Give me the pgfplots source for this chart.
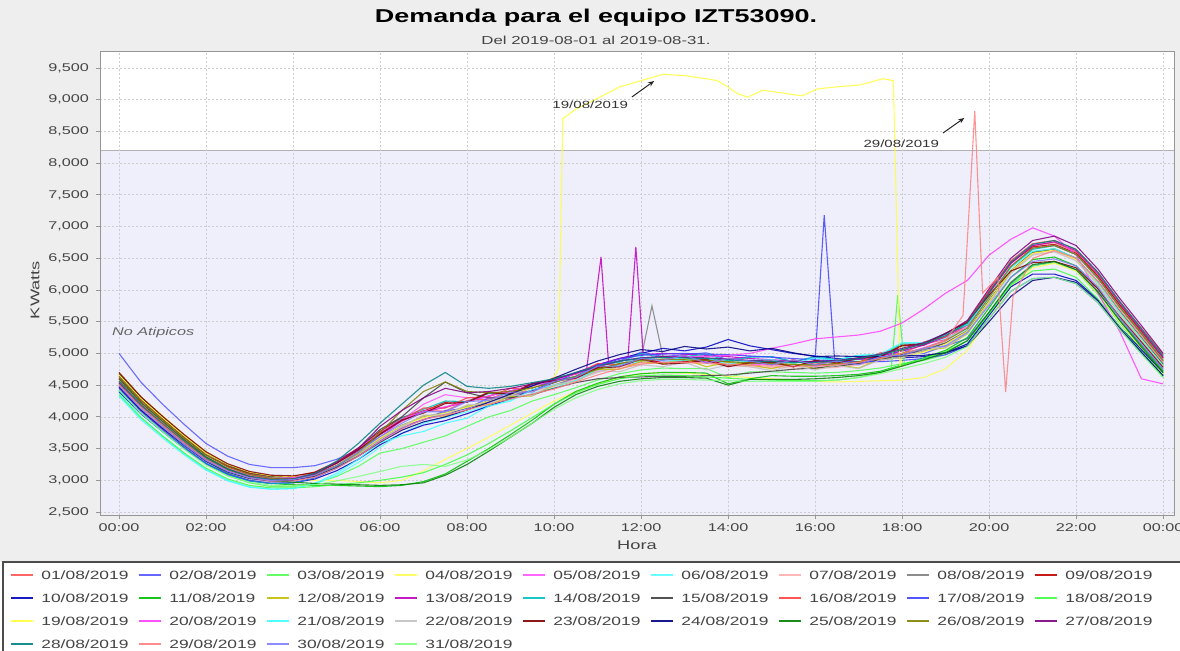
\documentclass[border=0pt]{standalone}
\usepackage{fontspec}
\setmainfont{Liberation Sans}[FakeStretch=1.45]
\usepackage{pgfplots}
\pgfplotsset{compat=1.18}
\usetikzlibrary{arrows.meta}
\definecolor{c1}{HTML}{FF5555}\definecolor{c2}{HTML}{5555FF}\definecolor{c3}{HTML}{55FF55}
\definecolor{c4}{HTML}{FFFF55}\definecolor{c5}{HTML}{FF55FF}\definecolor{c6}{HTML}{55FFFF}
\definecolor{c7}{RGB}{255,175,175}\definecolor{c8}{RGB}{128,128,128}\definecolor{c9}{HTML}{C00000}
\definecolor{c10}{HTML}{0000C0}\definecolor{c11}{HTML}{00C000}\definecolor{c12}{HTML}{C0C000}
\definecolor{c13}{HTML}{C000C0}\definecolor{c14}{HTML}{00C0C0}\definecolor{c15}{RGB}{64,64,64}
\definecolor{c16}{HTML}{FF4040}\definecolor{c17}{HTML}{4040FF}\definecolor{c18}{HTML}{40FF40}
\definecolor{c19}{HTML}{FFFF40}\definecolor{c20}{HTML}{FF40FF}\definecolor{c21}{HTML}{40FFFF}
\definecolor{c22}{RGB}{192,192,192}\definecolor{c23}{HTML}{800000}\definecolor{c24}{HTML}{000080}
\definecolor{c25}{HTML}{008000}\definecolor{c26}{HTML}{808000}\definecolor{c27}{HTML}{800080}
\definecolor{c28}{HTML}{008080}\definecolor{c29}{HTML}{FF8080}\definecolor{c30}{HTML}{8080FF}
\definecolor{c31}{HTML}{80FF80}
\definecolor{chartbg}{RGB}{238,238,238}
\definecolor{bandcol}{RGB}{239,239,251}
\definecolor{ticktext}{RGB}{68,68,68}
\definecolor{axisgray}{RGB}{150,150,150}
\definecolor{gridgray}{RGB}{205,205,205}
\newcommand{\legtxt}[1]{\makebox[52bp][l]{\hspace{3.5bp}\textcolor{ticktext}{#1}}}
\newcommand{\dser}[3]{%
  \addplot[color=#1] table[row sep=\\, header=false, x expr=\coordindex*0.5, y index=0]{#2};
  \addlegendentry{\legtxt{#3}}}
\begin{document}
\begin{tikzpicture}
\fill[chartbg] (0,44.5bp) rectangle (590bp,325.5bp);
\fill[white] (0,0) rectangle (590bp,44.5bp);
\draw[black!70, line width=0.6bp] (1.5bp,0bp) -- (1.5bp,44.5bp) -- (590bp,44.5bp);
\node[font=\bfseries\fontsize{9.3bp}{10bp}\selectfont] at (298bp,316.5bp) {Demanda para el equipo IZT53090.};
\node[font=\fontsize{5.8bp}{6.5bp}\selectfont, text=ticktext] at (298bp,305.5bp) {Del 2019-08-01 al 2019-08-31.};
\begin{axis}[
  at={(50bp,68bp)}, anchor=south west, scale only axis,
  width=537bp, height=231.5bp,
  xmin=-0.437, xmax=24.25, ymin=2453, ymax=9752,
  xtick={0,2,...,24},
  xticklabels={00:00,02:00,04:00,06:00,08:00,10:00,12:00,14:00,16:00,18:00,20:00,22:00,00:00},
  ytick={2500,3000,...,9500},
  scaled y ticks=false,
  yticklabel={\pgfmathprintnumber[fixed,1000 sep={,},assume math mode=true]{\tick}},
  ticklabel style={font=\fontsize{5.6bp}{6bp}\selectfont, text=ticktext},
  xticklabel style={yshift=1bp},
  tick style={axisgray, line width=0.4bp}, tick align=outside, major tick length=2bp,
  xtick pos=left, ytick pos=left,
  axis line style={axisgray, line width=0.5bp},
  grid=major, grid style={gridgray, line width=0.35bp, dash pattern=on 1bp off 1bp},
  axis background/.style={fill=white, path picture={
    \fill[bandcol] (path picture bounding box.south west) rectangle ([yshift=182.28bp]path picture bounding box.south east);
    \draw[black!30, line width=0.4bp] ([yshift=182.28bp]path picture bounding box.south west) -- ([yshift=182.28bp]path picture bounding box.south east);}},
  xlabel={Hora}, ylabel={KWatts},
  label style={font=\fontsize{6.3bp}{7bp}\selectfont, text=ticktext},
  xlabel style={at={(axis description cs:0.5,-0.0648)}, anchor=center},
  ylabel style={at={(axis description cs:-0.0605,0.486)}, anchor=center},
  legend columns=9, legend cell align=left,
  legend image code/.code={\draw[#1, line width=1bp, opacity=0.9] (0bp,0.25bp) -- (11bp,0.25bp);},
  legend style={at={(axis description cs:-0.0838,-0.1166)}, anchor=north west,
    draw=none, fill=none, inner sep=0pt,
    font=\fontsize{6bp}{7bp}\selectfont,
    row sep=5.5bp, nodes={inner sep=0pt, text height=5bp, text depth=1bp}},
  every axis plot/.append style={line width=0.55bp, opacity=0.85},
]
\dser{c1}{4600\\4230\\3930\\3640\\3360\\3170\\3060\\3000\\3020\\3090\\3260\\3480\\3720\\3930\\4100\\4090\\4260\\4280\\4410\\4400\\4560\\4610\\4790\\4790\\4910\\4890\\4950\\4860\\4920\\4880\\4820\\4900\\4820\\4890\\4840\\4970\\5000\\5150\\5220\\5450\\5950\\6420\\6700\\6750\\6600\\6230\\5760\\5330\\4900\\}{01/08/2019}
\dser{c2}{5000\\4550\\4200\\3880\\3580\\3380\\3250\\3200\\3200\\3230\\3330\\3480\\3680\\3860\\3950\\4100\\4130\\4300\\4310\\4490\\4560\\4640\\4830\\4880\\5020\\4950\\4980\\5010\\4900\\4950\\4950\\4870\\4940\\4880\\4930\\4910\\5050\\5000\\5120\\5230\\5650\\6100\\6380\\6450\\6320\\5980\\5520\\5130\\4750\\}{02/08/2019}
\dser{c3}{4480\\4120\\3830\\3530\\3260\\3070\\2960\\2900\\2900\\2950\\3060\\3220\\3430\\3500\\3600\\3700\\3850\\4000\\4100\\4250\\4350\\4460\\4580\\4680\\4740\\4770\\4760\\4760\\4620\\4710\\4710\\4700\\4690\\4700\\4730\\4770\\4840\\4890\\4980\\5150\\5620\\6080\\6380\\6430\\6300\\5930\\5480\\5060\\4660\\}{03/08/2019}
\dser{c4}{4700\\4320\\4020\\3720\\3450\\3250\\3120\\3050\\3010\\3000\\3000\\2980\\2960\\3000\\3150\\3330\\3500\\3680\\3870\\4060\\4250\\4400\\4520\\4620\\4680\\4700\\4690\\4670\\4640\\4620\\4600\\4580\\4560\\4550\\4560\\4570\\4580\\4620\\4760\\5050\\5550\\6050\\6350\\6420\\6300\\5950\\5500\\5080\\4680\\}{04/08/2019}
\dser{c5}{4550\\4190\\3890\\3600\\3330\\3140\\3020\\2970\\2980\\3060\\3210\\3420\\3670\\3950\\4200\\4350\\4300\\4300\\4330\\4420\\4500\\4600\\4710\\4800\\4860\\4880\\4880\\4870\\4850\\4830\\4820\\4810\\4800\\4820\\4850\\4900\\4980\\5090\\5210\\5420\\5900\\6380\\6660\\6700\\6560\\6180\\5730\\5300\\4880\\}{05/08/2019}
\dser{c6}{4380\\4000\\3700\\3420\\3170\\3000\\2900\\2860\\2870\\2940\\3080\\3280\\3520\\3740\\3900\\3990\\4080\\4180\\4270\\4370\\4460\\4580\\4700\\4810\\4880\\4910\\4920\\4910\\4890\\4880\\4870\\4860\\4850\\4870\\4900\\4960\\5060\\5150\\5240\\5380\\5820\\6300\\6600\\6650\\6500\\6130\\5660\\5240\\4830\\}{06/08/2019}
\dser{c7}{4500\\4150\\3860\\3580\\3320\\3140\\3030\\2990\\3000\\3070\\3210\\3400\\3630\\3840\\3990\\4060\\4140\\4240\\4320\\4400\\4480\\4590\\4700\\4790\\4840\\4860\\4850\\4840\\4810\\4790\\4780\\4770\\4760\\4780\\4820\\4880\\4960\\5040\\5150\\5330\\5800\\6280\\6570\\6620\\6480\\6100\\5640\\5220\\4800\\}{07/08/2019}
\dser{c8}{4650\\4280\\3970\\3670\\3400\\3220\\3100\\3040\\3030\\3080\\3220\\3420\\3660\\3870\\4000\\4070\\4160\\4250\\4330\\4420\\4500\\4620\\4740\\4840\\4920\\4960\\4930\\4900\\4870\\4850\\4840\\4820\\4810\\4830\\4860\\4910\\4990\\5060\\5170\\5360\\5830\\6300\\6600\\6650\\6500\\6120\\5660\\5240\\4820\\}{08/08/2019}
\addplot[color=c8, forget plot] coordinates {(12.0,4920)(12.25,5750)(12.5,4960)};
\dser{c9}{4620\\4260\\3960\\3670\\3400\\3220\\3110\\3060\\3060\\3130\\3290\\3510\\3770\\3990\\4090\\4230\\4240\\4390\\4370\\4530\\4580\\4620\\4780\\4810\\4930\\4850\\4870\\4910\\4810\\4860\\4870\\4790\\4880\\4840\\4920\\4940\\5120\\5130\\5310\\5500\\5980\\6430\\6680\\6720\\6580\\6220\\5770\\5350\\4930\\}{09/08/2019}
\dser{c10}{4400\\4050\\3770\\3500\\3260\\3090\\2990\\2950\\2960\\3020\\3150\\3330\\3560\\3740\\3870\\3940\\4050\\4170\\4290\\4420\\4540\\4690\\4820\\4920\\5000\\5080\\5040\\5100\\5220\\5120\\5060\\5000\\4960\\4920\\4910\\4910\\4930\\4950\\5010\\5150\\5600\\6050\\6250\\6250\\6150\\5850\\5420\\5060\\4700\\}{10/08/2019}
\dser{c11}{4520\\4150\\3860\\3570\\3300\\3110\\3000\\2950\\2930\\2920\\2920\\2910\\2900\\2920\\2980\\3100\\3300\\3500\\3720\\3950\\4200\\4400\\4530\\4630\\4680\\4700\\4700\\4690\\4520\\4600\\4650\\4640\\4640\\4650\\4670\\4720\\4820\\4930\\5050\\5250\\5720\\6200\\6480\\6520\\6380\\6020\\5560\\5130\\4720\\}{11/08/2019}
\dser{c12}{4570\\4210\\3900\\3610\\3350\\3170\\3060\\3010\\3010\\3070\\3220\\3420\\3650\\3850\\4020\\4010\\4170\\4190\\4320\\4330\\4500\\4560\\4750\\4750\\4870\\4840\\4910\\4790\\4860\\4820\\4760\\4840\\4760\\4820\\4770\\4910\\4930\\5040\\5090\\5310\\5800\\6290\\6590\\6640\\6500\\6120\\5660\\5240\\4820\\}{12/08/2019}
\dser{c13}{4480\\4120\\3830\\3560\\3310\\3140\\3040\\2990\\3000\\3080\\3240\\3460\\3720\\3940\\4080\\4150\\4240\\4330\\4410\\4490\\4580\\4700\\4820\\4920\\4980\\5000\\4990\\4970\\4950\\4920\\4900\\4880\\4870\\4880\\4910\\4960\\5040\\5130\\5260\\5460\\5950\\6420\\6700\\6760\\6620\\6260\\5800\\5370\\4940\\}{13/08/2019}
\addplot[color=c13, forget plot] coordinates {(10.75,4760)(11.08,6520)(11.25,4870)};
\addplot[color=c13, forget plot] coordinates {(11.7,4944)(11.88,6680)(12.05,4982)};
\dser{c14}{4420\\4060\\3770\\3500\\3260\\3090\\2990\\2950\\2960\\3040\\3210\\3450\\3730\\3980\\4120\\4250\\4240\\4370\\4350\\4510\\4570\\4630\\4810\\4860\\5000\\4930\\4950\\4990\\4880\\4940\\4950\\4870\\4950\\4900\\4970\\4970\\5150\\5150\\5300\\5450\\5900\\6360\\6640\\6700\\6560\\6190\\5730\\5310\\4890\\}{14/08/2019}
\dser{c15}{4680\\4310\\4000\\3700\\3430\\3240\\3120\\3060\\3050\\3100\\3230\\3500\\3800\\4000\\4300\\4550\\4380\\4300\\4300\\4350\\4450\\4540\\4600\\4620\\4630\\4640\\4640\\4650\\4660\\4690\\4720\\4750\\4770\\4800\\4840\\4900\\4980\\5050\\5160\\5350\\5830\\6300\\6590\\6640\\6500\\6130\\5670\\5250\\4830\\}{15/08/2019}
\dser{c16}{4560\\4200\\3900\\3620\\3360\\3180\\3070\\3020\\3030\\3100\\3260\\3480\\3740\\3960\\4140\\4140\\4300\\4320\\4450\\4450\\4620\\4670\\4840\\4820\\4930\\4900\\4970\\4850\\4920\\4880\\4820\\4900\\4830\\4900\\4860\\5010\\5050\\5180\\5260\\5500\\5990\\6460\\6730\\6780\\6640\\6280\\5820\\5400\\4980\\}{16/08/2019}
\dser{c17}{4450\\4090\\3800\\3520\\3270\\3100\\3000\\2960\\2970\\3040\\3190\\3390\\3620\\3820\\3960\\4040\\4140\\4250\\4350\\4460\\4560\\4690\\4810\\4910\\4970\\4990\\5000\\4990\\4980\\4960\\4940\\4920\\4900\\4880\\4870\\4870\\4890\\4920\\4980\\5120\\5550\\5980\\6180\\6200\\6100\\5800\\5380\\5000\\4640\\}{17/08/2019}
\addplot[color=c17, forget plot] coordinates {(16.0,4900)(16.21,7180)(16.45,4882)};
\dser{c18}{4350\\3990\\3700\\3430\\3190\\3020\\2920\\2880\\2880\\2900\\2930\\2960\\3000\\3050\\3120\\3250\\3400\\3580\\3780\\3990\\4200\\4380\\4510\\4600\\4650\\4660\\4650\\4630\\4610\\4590\\4580\\4570\\4570\\4580\\4620\\4700\\4820\\4920\\5030\\5200\\5630\\6080\\6300\\6330\\6200\\5860\\5420\\5020\\4630\\}{18/08/2019}
\addplot[color=c18, forget plot] coordinates {(17.75,4760)(17.9,5920)(18.05,4832)};
\addplot[color=c19] coordinates {(0,4660)(0.5,4290)(1,3990)(1.5,3700)(2,3430)(2.5,3250)(3,3130)(3.5,3070)(4,3060)(4.5,3110)(5,3250)(5.5,3440)(6,3670)(6.5,3860)(7,3990)(7.5,4060)(8,4150)(8.5,4250)(9,4350)(9.5,4460)(10,4620)(10.1,4750)(10.2,8700)(10.5,8850)(11,9020)(11.5,9200)(12,9300)(12.5,9400)(13,9380)(13.5,9330)(13.75,9300)(14,9200)(14.2,9100)(14.45,9040)(14.8,9150)(15.1,9120)(15.5,9080)(15.7,9060)(16.05,9170)(16.6,9210)(17,9230)(17.3,9280)(17.55,9330)(17.8,9300)(17.95,4800)(18,4950)(18.5,5020)(19,5150)(19.5,5350)(20,5820)(20.5,6300)(21,6580)(21.5,6630)(22,6480)(22.5,6100)(23,5640)(23.5,5220)(24,4800)};
\addlegendentry{\legtxt{19/08/2019}}
\dser{c20}{4600\\4230\\3930\\3640\\3370\\3190\\3080\\3030\\3040\\3110\\3270\\3490\\3750\\3960\\4090\\4160\\4240\\4330\\4410\\4490\\4570\\4680\\4790\\4880\\4930\\4950\\4950\\4950\\4970\\5000\\5080\\5150\\5230\\5260\\5290\\5350\\5480\\5700\\5950\\6150\\6550\\6800\\6980\\6850\\6550\\5950\\5350\\4600\\4520\\}{20/08/2019}
\dser{c21}{4330\\3960\\3670\\3400\\3160\\2990\\2890\\2860\\2870\\2950\\3110\\3330\\3590\\3700\\3770\\3900\\3980\\4170\\4250\\4430\\4500\\4570\\4760\\4810\\4950\\4880\\4890\\4930\\4830\\4890\\4900\\4840\\4930\\4890\\4970\\4990\\5170\\5170\\5320\\5460\\5900\\6350\\6610\\6650\\6500\\6120\\5650\\5230\\4810\\}{21/08/2019}
\dser{c22}{4500\\4140\\3850\\3570\\3310\\3130\\3020\\2970\\2980\\3050\\3200\\3400\\3640\\3850\\4030\\4030\\4190\\4210\\4340\\4340\\4510\\4560\\4730\\4710\\4820\\4790\\4860\\4740\\4820\\4790\\4730\\4810\\4740\\4810\\4760\\4900\\4930\\5050\\5100\\5320\\5790\\6260\\6550\\6600\\6460\\6080\\5620\\5200\\4780\\}{22/08/2019}
\dser{c23}{4700\\4320\\4010\\3720\\3450\\3260\\3140\\3080\\3070\\3120\\3270\\3480\\3730\\3950\\4060\\4210\\4230\\4380\\4360\\4520\\4570\\4610\\4770\\4790\\4910\\4830\\4850\\4890\\4790\\4850\\4860\\4790\\4890\\4850\\4930\\4950\\5130\\5150\\5320\\5490\\5920\\6300\\6430\\6450\\6350\\6020\\5580\\5180\\4780\\}{23/08/2019}
\dser{c24}{4470\\4110\\3820\\3550\\3300\\3130\\3030\\2990\\3000\\3060\\3200\\3380\\3600\\3790\\3920\\4000\\4110\\4230\\4360\\4490\\4610\\4750\\4880\\4980\\5060\\5030\\5110\\5070\\5100\\5040\\5080\\5010\\4950\\4960\\4950\\4950\\4960\\4970\\5010\\5120\\5500\\5900\\6150\\6200\\6120\\5830\\5400\\5020\\4650\\}{24/08/2019}
\dser{c25}{4600\\4230\\3930\\3640\\3370\\3180\\3060\\3000\\2970\\2950\\2940\\2930\\2920\\2930\\2960\\3080\\3250\\3460\\3680\\3900\\4150\\4350\\4480\\4560\\4600\\4620\\4620\\4610\\4500\\4590\\4590\\4590\\4600\\4620\\4650\\4700\\4800\\4900\\5010\\5200\\5650\\6120\\6400\\6450\\6320\\5970\\5520\\5100\\4700\\}{25/08/2019}
\dser{c26}{4640\\4270\\3960\\3670\\3400\\3210\\3090\\3030\\3020\\3080\\3230\\3440\\3750\\4100\\4400\\4550\\4400\\4380\\4400\\4460\\4540\\4640\\4750\\4840\\4890\\4910\\4900\\4890\\4870\\4850\\4840\\4830\\4820\\4840\\4870\\4920\\5000\\5080\\5200\\5400\\5880\\6370\\6660\\6700\\6560\\6190\\5730\\5310\\4880\\}{26/08/2019}
\dser{c27}{4530\\4170\\3870\\3590\\3330\\3160\\3050\\3010\\3020\\3100\\3270\\3500\\3850\\4100\\4300\\4450\\4380\\4400\\4450\\4520\\4590\\4690\\4790\\4880\\4930\\4950\\4940\\4930\\4910\\4890\\4880\\4870\\4870\\4890\\4930\\4990\\5080\\5170\\5310\\5520\\6020\\6500\\6780\\6850\\6700\\6330\\5870\\5440\\5000\\}{27/08/2019}
\dser{c28}{4560\\4190\\3890\\3610\\3350\\3170\\3060\\3010\\3020\\3110\\3300\\3580\\3900\\4200\\4500\\4700\\4480\\4450\\4480\\4540\\4600\\4700\\4800\\4880\\4920\\4940\\4930\\4920\\4900\\4880\\4870\\4860\\4860\\4880\\4920\\4980\\5060\\5150\\5280\\5480\\5960\\6440\\6720\\6780\\6640\\6280\\5820\\5390\\4960\\}{28/08/2019}
\addplot[color=c29] coordinates {(0,4510)(0.5,4160)(1,3870)(1.5,3590)(2,3330)(2.5,3150)(3,3040)(3.5,2990)(4,2990)(4.5,3050)(5,3190)(5.5,3380)(6,3610)(6.5,3810)(7,3960)(7.5,4030)(8,4110)(8.5,4200)(9,4280)(9.5,4360)(10,4440)(10.5,4550)(11,4660)(11.5,4760)(12,4830)(12.5,4860)(13,4860)(13.5,4850)(14,4830)(14.5,4810)(15,4800)(15.5,4800)(16,4800)(16.5,4820)(17,4860)(17.5,4920)(18,5000)(18.5,5080)(19,5200)(19.4,5600)(19.67,8820)(19.85,5950)(20.2,6200)(20.38,4390)(20.55,5900)(21,6500)(21.5,6620)(22,6500)(22.5,6140)(23,5690)(23.5,5270)(24,4860)};
\addlegendentry{\legtxt{29/08/2019}}
\dser{c30}{4490\\4130\\3840\\3560\\3310\\3140\\3040\\3000\\3010\\3080\\3230\\3440\\3690\\3900\\4080\\4080\\4240\\4260\\4390\\4390\\4560\\4620\\4800\\4800\\4920\\4890\\4970\\4850\\4920\\4880\\4820\\4900\\4820\\4880\\4820\\4950\\4970\\5080\\5120\\5330\\5760\\6200\\6450\\6490\\6380\\6050\\5560\\5150\\4750\\}{30/08/2019}
\dser{c31}{4420\\4060\\3770\\3490\\3240\\3070\\2970\\2920\\2910\\2930\\2990\\3060\\3140\\3220\\3250\\3220\\3320\\3480\\3680\\3900\\4120\\4300\\4430\\4520\\4570\\4590\\4590\\4580\\4570\\4560\\4560\\4560\\4560\\4580\\4620\\4680\\4760\\4840\\4940\\5110\\5550\\5980\\6180\\6200\\6100\\5800\\5380\\4990\\4620\\}{31/08/2019}

\node[font=\itshape\fontsize{5.6bp}{6bp}\selectfont, text=black!60, anchor=west] at (axis cs:-0.32,5322) {No Atipicos};
\node[font=\fontsize{5.2bp}{6bp}\selectfont, text=black!80] at (axis cs:10.83,8917) {19/08/2019};
\node[font=\fontsize{5.2bp}{6bp}\selectfont, text=black!80] at (axis cs:17.98,8302) {29/08/2019};
\draw[-{Stealth[length=3bp,width=2.4bp]}, line width=0.5bp, black!85] (axis cs:11.79,9043) -- (axis cs:12.30,9295);
\draw[-{Stealth[length=3bp,width=2.4bp]}, line width=0.5bp, black!85] (axis cs:18.94,8475) -- (axis cs:19.43,8712);
\end{axis}
\pgfresetboundingbox
\useasboundingbox (0,0) rectangle (590bp,325.5bp);
\end{tikzpicture}
\end{document}
